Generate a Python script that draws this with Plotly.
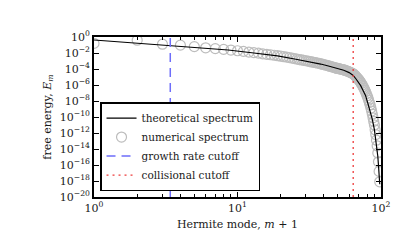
import plotly.graph_objects as go

# ---- data (values are log10 of E_m) ----
numerical_mode = list(range(1, 99))  # Hermite mode m+1
numerical_log10 = [
    -0.8, -0.4, -0.9, -1.02, -1.2, -1.35, -1.45, -1.55, -1.63, -1.72,
    -1.8, -1.88, -1.95, -2.02, -2.1, -2.16, -2.22, -2.28, -2.34, -2.4,
    -2.46, -2.52, -2.58, -2.64, -2.7, -2.76, -2.82, -2.87, -2.92, -2.97,
    -3.02, -3.07, -3.12, -3.16, -3.2, -3.25, -3.3, -3.35, -3.4, -3.45,
    -3.5, -3.55, -3.6, -3.65, -3.7, -3.75, -3.8, -3.85, -3.9, -3.93,
    -3.96, -4.0, -4.03, -4.07, -4.1, -4.15, -4.2, -4.25, -4.3, -4.35,
    -4.41, -4.47, -4.53, -4.6, -4.7, -4.82, -4.95, -5.08, -5.21, -5.35,
    -5.5, -5.65, -5.83, -6.01, -6.2, -6.41, -6.63, -6.85, -7.1, -7.35,
    -7.6, -7.9, -8.2, -8.5, -8.88, -9.26, -9.65, -10.1, -10.55, -11.0,
    -11.6, -12.2, -12.9, -13.6, -14.5, -15.6, -16.8, -18.1,
]

theory_mode = [1, 2, 4, 8.6, 13, 19, 25, 32, 38, 43, 50, 55, 60, 64, 67, 70,
               72, 75, 78, 81, 84, 87, 90, 92, 94, 95, 96, 97, 98]
theory_log10 = [-0.375, -0.78, -1.19, -1.625, -2.0, -2.37, -2.75, -3.1, -3.38,
                -3.62, -3.95, -4.15, -4.45, -4.8, -5.25, -5.7, -6.05, -6.7,
                -7.3, -8.3, -9.2, -10.3, -11.6, -12.7, -14.0, -14.9, -16.0,
                -17.2, -18.4]

growth_cutoff = 3.4
collisional_cutoff = 64
y_limits = [1e-20, 1e0]

x_tick_exps = [0, 1, 2]
y_tick_exps = [0, -2, -4, -6, -8, -10, -12, -14, -16, -18, -20]

numerical = [10 ** v for v in numerical_log10]
theory = [10 ** v for v in theory_log10]

FONT = "DejaVu Serif"
TXT = "#1a1a1a"


def power_label(e):
    s = str(e).replace("-", "\u2212")
    return f"10<sup>{s}</sup>"


fig = go.Figure()
fig.add_trace(go.Scatter(
    x=numerical_mode, y=numerical, mode="markers", name="numerical spectrum",
    marker=dict(symbol="circle-open", size=10, color="#bdbdbd",
                line=dict(width=1.2, color="#bdbdbd")),
    legendrank=2, cliponaxis=True,
))
fig.add_trace(go.Scatter(
    x=theory_mode, y=theory, mode="lines", name="theoretical spectrum",
    line=dict(color="black", width=1.2), legendrank=1,
))
fig.add_trace(go.Scatter(
    x=[growth_cutoff, growth_cutoff], y=y_limits, mode="lines",
    name="growth rate cutoff",
    line=dict(color="#6e6efa", width=1.5, dash="9px,6px"), legendrank=3,
))
fig.add_trace(go.Scatter(
    x=[collisional_cutoff, collisional_cutoff], y=y_limits, mode="lines",
    name="collisional cutoff",
    line=dict(color="#ee3b3b", width=1.3, dash="2px,4px"), legendrank=4,
))

axis_common = dict(
    showline=True, linecolor="black", linewidth=1.6, mirror="ticks",
    ticks="inside", tickcolor="black", tickwidth=1, showgrid=False,
    zeroline=False, automargin=False,
    tickfont=dict(family=FONT, size=11, color=TXT),
)

fig.update_xaxes(
    type="log", range=[0, 2], ticklen=5,
    tickvals=[10 ** e for e in x_tick_exps],
    ticktext=[power_label(e) for e in x_tick_exps],
    minor=dict(ticks="inside", ticklen=3, tickcolor="black", dtick="D1",
               showgrid=False),
    title=dict(text="Hermite mode, <i>m</i> + 1",
               font=dict(family=FONT, size=11, color=TXT), standoff=6),
    **axis_common,
)
fig.update_yaxes(
    type="log", range=[-20, 0], ticklen=5,
    tickvals=[10 ** e for e in y_tick_exps],
    ticktext=[power_label(e) for e in y_tick_exps],
    title=dict(text="free energy, <i>E</i><sub><i>m</i></sub>",
               font=dict(family=FONT, size=11, color=TXT), standoff=6),
    **axis_common,
)

fig.update_layout(
    width=407, height=252,
    margin=dict(l=86, r=34, t=29, b=63),
    paper_bgcolor="white", plot_bgcolor="white",
    font=dict(family=FONT, size=11, color=TXT),
    legend=dict(
        x=0.021, y=0.037, xanchor="left", yanchor="bottom",
        bgcolor="white", bordercolor="black", borderwidth=1.5,
        font=dict(family=FONT, size=10.5, color=TXT),
        tracegroupgap=0, itemwidth=30,
    ),
    showlegend=True,
)

fig.write_html("out.html")
